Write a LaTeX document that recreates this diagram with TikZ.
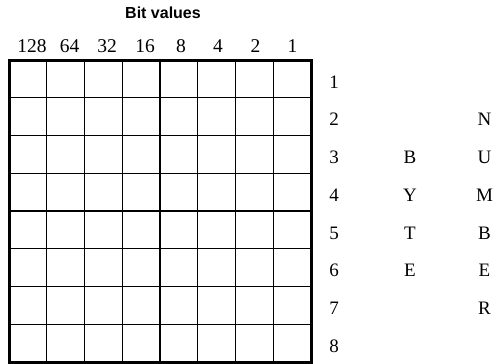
\documentclass[tikz,border=0pt]{standalone}
\usepackage{fontspec}
\setmainfont{Liberation Serif}
\newfontfamily\headfont{Liberation Sans}
\begin{document}
\begin{tikzpicture}[x=1pt,y=-1pt,
  lbl/.style={anchor=base,inner sep=0pt,font=\fontsize{19}{19}\selectfont},
  toplbl/.style={anchor=base,inner sep=0pt,font=\fontsize{19.5}{19.5}\selectfont},
  thin grid/.style={line width=1.3pt},
  frame/.style={line width=3pt}]
\useasboundingbox (0,0) rectangle (499,364);
% grid
\foreach \i in {1,...,7} {
  \draw[thin grid] (9+\i*37.75,60) -- (9+\i*37.75,362);
  \draw[thin grid] (9,60+\i*37.75) -- (311,60+\i*37.75);
}
\draw[frame] (9,60) rectangle (311,362);
% title
\node[anchor=base,inner sep=0pt,font=\headfont\bfseries\fontsize{16}{16}\selectfont] (title) at (163,19) {Bit values};
% bit values
\node[toplbl] (b128) at (32,52.5) {128};
\node[toplbl] (b64) at (69.5,52.5) {64};
\node[toplbl] (b32) at (107,52.5) {32};
\node[toplbl] (b16) at (145,52.5) {16};
\node[toplbl] (b8) at (181,52.5) {8};
\node[toplbl] (b4) at (218,52.5) {4};
\node[toplbl] (b2) at (255.5,52.5) {2};
\node[toplbl] (b1) at (292.5,52.5) {1};
% row numbers
\foreach \r in {1,...,8} {
  \node[lbl] (r\r) at (334,88+\r*37.75-37.75) {\r};
}
% BYTE
\node[lbl] (by1) at (410,163.5) {B};
\node[lbl] (by2) at (410,201.25) {Y};
\node[lbl] (by3) at (410,239) {T};
\node[lbl] (by4) at (410,276.75) {E};
% NUMBER
\node[lbl] (n1) at (484.5,125.75) {N};
\node[lbl] (n2) at (484.5,163.5) {U};
\node[lbl] (n3) at (484.5,201.25) {M};
\node[lbl] (n4) at (484.5,239) {B};
\node[lbl] (n5) at (484.5,276.75) {E};
\node[lbl] (n6) at (484.5,314.5) {R};
\end{tikzpicture}
\end{document}
